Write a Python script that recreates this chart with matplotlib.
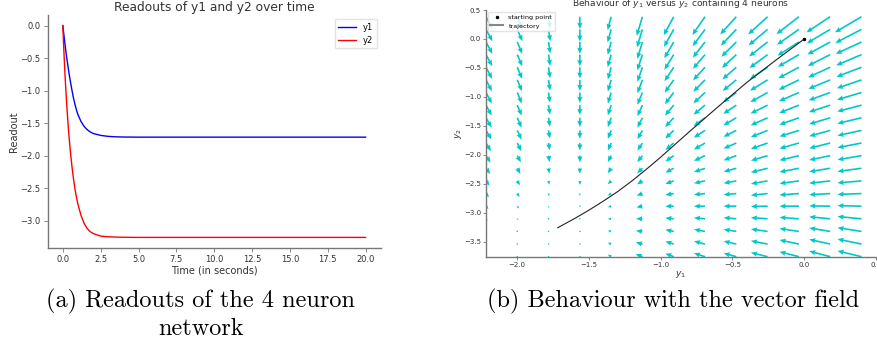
import numpy as np
import matplotlib
matplotlib.use("Agg")
import matplotlib.pyplot as plt

# readouts over time
t = [0, 0.05, 0.1, 0.15, 0.2, 0.25, 0.3, 0.4, 0.5, 0.6, 0.7, 0.8, 0.9, 1.0,
     1.2, 1.4, 1.6, 1.8, 2.0, 2.5, 3.0, 3.5, 4.0, 5.0, 6.0, 8.0, 10.0,
     12.5, 15.0, 17.5, 20.0]
y1 = [0, -0.10, -0.20, -0.30, -0.39, -0.48, -0.56, -0.72, -0.86, -0.99,
      -1.11, -1.21, -1.30, -1.37, -1.475, -1.55, -1.60, -1.635, -1.66,
      -1.69, -1.705, -1.712, -1.715, -1.717, -1.717, -1.717, -1.717,
      -1.717, -1.717, -1.717, -1.717]
y2 = [0, -0.28, -0.54, -0.78, -0.99, -1.18, -1.36, -1.68, -1.94, -2.16,
      -2.35, -2.51, -2.64, -2.75, -2.92, -3.04, -3.12, -3.17, -3.20,
      -3.24, -3.25, -3.255, -3.258, -3.26, -3.26, -3.26, -3.26, -3.26,
      -3.26, -3.26, -3.26]

# trajectory in the (y1, y2) plane
traj_y1 = [0, -0.1, -0.2, -0.3, -0.4, -0.5, -0.6, -0.7, -0.8, -0.9, -1.0,
           -1.1, -1.2, -1.3, -1.4, -1.5, -1.6, -1.7, -1.717]
traj_y2 = [0, -0.185, -0.37, -0.56, -0.75, -0.96, -1.17, -1.385, -1.6,
           -1.82, -2.04, -2.25, -2.45, -2.635, -2.80, -2.955, -3.10,
           -3.235, -3.258]
start_point = (0.0, 0.0)

# vector field, rows from top (y2 = 0.38) to bottom (y2 = -3.76),
# columns from y1 = -2.22 to y1 = 0.40
field_u = [
    [0.045, 0.036, 0.012, 0.0, -0.025, -0.040, -0.070, -0.088, -0.112, -0.135, -0.156, -0.165, -0.185],
    [0.045, 0.036, 0.012, 0.0, -0.025, -0.038, -0.068, -0.086, -0.108, -0.132, -0.152, -0.162, -0.182],
    [0.045, 0.035, 0.012, 0.0, -0.024, -0.036, -0.066, -0.085, -0.104, -0.129, -0.149, -0.159, -0.179],
    [0.044, 0.035, 0.011, 0.0, -0.024, -0.036, -0.065, -0.084, -0.100, -0.126, -0.146, -0.156, -0.176],
    [0.043, 0.034, 0.011, 0.0, -0.023, -0.035, -0.064, -0.083, -0.097, -0.124, -0.143, -0.154, -0.174],
    [0.042, 0.033, 0.011, 0.0, -0.023, -0.035, -0.063, -0.082, -0.095, -0.122, -0.141, -0.152, -0.172],
    [0.041, 0.032, 0.010, 0.0, -0.023, -0.035, -0.062, -0.081, -0.093, -0.120, -0.139, -0.150, -0.170],
    [0.040, 0.031, 0.010, 0.0, -0.023, -0.035, -0.061, -0.080, -0.091, -0.119, -0.137, -0.148, -0.169],
    [0.039, 0.030, 0.010, 0.0, -0.023, -0.035, -0.060, -0.079, -0.090, -0.118, -0.136, -0.147, -0.168],
    [0.038, 0.030, 0.009, 0.0, -0.023, -0.035, -0.059, -0.078, -0.089, -0.117, -0.135, -0.146, -0.167],
    [0.035, 0.028, 0.008, 0.0, -0.023, -0.035, -0.058, -0.077, -0.088, -0.116, -0.135, -0.146, -0.167],
    [0.032, 0.025, 0.007, 0.0, -0.023, -0.036, -0.058, -0.077, -0.088, -0.116, -0.135, -0.146, -0.167],
    [0.029, 0.022, 0.006, 0.0, -0.023, -0.037, -0.058, -0.077, -0.088, -0.116, -0.135, -0.146, -0.167],
    [0.025, 0.019, 0.005, 0.0, -0.023, -0.038, -0.058, -0.077, -0.088, -0.116, -0.135, -0.146, -0.167],
    [0.021, 0.016, 0.004, 0.0, -0.023, -0.040, -0.058, -0.077, -0.088, -0.116, -0.135, -0.146, -0.167],
    [0.017, 0.012, 0.003, 0.0, -0.023, -0.042, -0.058, -0.077, -0.088, -0.116, -0.135, -0.146, -0.167],
    [0.012, 0.009, 0.002, 0.0, -0.023, -0.044, -0.058, -0.077, -0.088, -0.116, -0.135, -0.146, -0.167],
    [0.009, 0.006, 0.001, -0.002, -0.023, -0.045, -0.058, -0.077, -0.088, -0.116, -0.135, -0.146, -0.167],
    [0.006, 0.004, 0.0, -0.003, -0.023, -0.046, -0.058, -0.077, -0.088, -0.116, -0.135, -0.146, -0.167],
    [0.004, 0.003, 0.0, -0.004, -0.023, -0.047, -0.058, -0.077, -0.088, -0.116, -0.135, -0.146, -0.167],
]
field_v = [
    [-0.21, -0.21, -0.205, -0.21, -0.23, -0.33, -0.32, -0.315, -0.305, -0.305, -0.30, -0.27, -0.27],
    [-0.205, -0.205, -0.205, -0.21, -0.225, -0.31, -0.30, -0.29, -0.28, -0.275, -0.265, -0.24, -0.235],
    [-0.205, -0.205, -0.20, -0.205, -0.22, -0.29, -0.28, -0.27, -0.255, -0.25, -0.235, -0.215, -0.205],
    [-0.20, -0.20, -0.195, -0.20, -0.215, -0.27, -0.26, -0.245, -0.23, -0.23, -0.21, -0.195, -0.185],
    [-0.20, -0.20, -0.19, -0.195, -0.21, -0.25, -0.24, -0.225, -0.21, -0.205, -0.19, -0.175, -0.165],
    [-0.195, -0.195, -0.185, -0.19, -0.20, -0.23, -0.22, -0.205, -0.19, -0.185, -0.17, -0.155, -0.145],
    [-0.19, -0.19, -0.175, -0.18, -0.19, -0.21, -0.20, -0.185, -0.17, -0.165, -0.15, -0.135, -0.125],
    [-0.18, -0.18, -0.165, -0.17, -0.175, -0.19, -0.18, -0.165, -0.15, -0.145, -0.135, -0.12, -0.11],
    [-0.17, -0.17, -0.155, -0.16, -0.16, -0.17, -0.16, -0.145, -0.13, -0.13, -0.12, -0.11, -0.10],
    [-0.155, -0.16, -0.14, -0.144, -0.144, -0.15, -0.14, -0.125, -0.11, -0.115, -0.105, -0.10, -0.09],
    [-0.14, -0.14, -0.125, -0.127, -0.127, -0.13, -0.12, -0.11, -0.095, -0.10, -0.095, -0.09, -0.08],
    [-0.12, -0.115, -0.11, -0.115, -0.11, -0.11, -0.10, -0.09, -0.08, -0.085, -0.08, -0.075, -0.07],
    [-0.10, -0.098, -0.09, -0.095, -0.086, -0.085, -0.075, -0.065, -0.06, -0.07, -0.065, -0.06, -0.055],
    [-0.08, -0.075, -0.065, -0.07, -0.058, -0.06, -0.05, -0.04, -0.04, -0.05, -0.045, -0.04, -0.035],
    [-0.065, -0.06, -0.045, -0.04, -0.035, -0.035, -0.025, -0.02, -0.02, -0.03, -0.025, -0.02, -0.015],
    [-0.05, -0.04, -0.03, -0.025, -0.017, -0.018, -0.002, 0.0, 0.0, -0.005, 0.0, 0.005, 0.01],
    [-0.03, -0.023, -0.02, -0.012, 0.0, 0.0, 0.015, 0.018, 0.02, 0.02, 0.025, 0.035, 0.04],
    [-0.02, -0.012, -0.01, -0.005, 0.012, 0.012, 0.03, 0.035, 0.035, 0.04, 0.05, 0.06, 0.065],
    [-0.015, -0.008, -0.005, 0.0, 0.023, 0.03, 0.045, 0.05, 0.05, 0.055, 0.07, 0.08, 0.085],
    [-0.01, -0.005, -0.003, 0.005, 0.035, 0.045, 0.055, 0.06, 0.06, 0.07, 0.085, 0.095, 0.10],
]

text_col = "#333333"
spine_col = "#777777"

fig = plt.figure(figsize=(8.78, 3.49), dpi=100)

# ---- panel a
ax1 = fig.add_axes([0.0543, 0.2894, 0.3793, 0.6676])
ax1.plot(t, y1, color="blue", lw=1.0, label="y1")
ax1.plot(t, y2, color="red", lw=1.0, label="y2")
ax1.set_title("Readouts of y1 and y2 over time", fontsize=8.8, color=text_col, pad=3)
ax1.set_xlabel("Time (in seconds)", fontsize=7, color=text_col, labelpad=1)
ax1.set_ylabel("Readout", fontsize=7, color=text_col, labelpad=1)
ax1.legend(loc="upper right", fontsize=6, frameon=True, fancybox=False,
           edgecolor="#dddddd", handlelength=2.2)

# ---- panel b
ax2 = fig.add_axes([0.5535, 0.2645, 0.4442, 0.7068])
xmin, xmax = min(traj_y1) - 0.5, max(traj_y1) + 0.5
ymin, ymax = min(traj_y2) - 0.5, max(traj_y2) + 0.5
step = 0.218
gx = np.arange(xmin, xmax, step)
gy = np.arange(ymin, ymax, step)[::-1]
X, Y = np.meshgrid(gx, gy)
ax2.quiver(X, Y, np.array(field_u), np.array(field_v), color="#00c8c8",
           angles="xy", scale_units="xy", scale=1, width=0.0042,
           headwidth=3.2, headlength=3.8, headaxislength=3.4)
ax2.plot(traj_y1, traj_y2, color="#222222", lw=0.8, label="trajectory")
ax2.plot(*start_point, "k.", ms=3, label="starting point")
ax2.set_xlim(xmin, xmax)
ax2.set_ylim(ymin, ymax)
ax2.set_title(r"Behaviour of $y_1$ versus $y_2$ containing 4 neurons",
              fontsize=6.6, color=text_col, pad=0.6)
ax2.set_xlabel(r"$y_1$", fontsize=6.5, color=text_col, labelpad=1)
ax2.set_ylabel(r"$y_2$", fontsize=6.5, color=text_col, labelpad=0)
h, l = ax2.get_legend_handles_labels()
leg = ax2.legend(h[::-1], l[::-1], loc="upper left", fontsize=4.6, frameon=True,
                 fancybox=False, edgecolor="#dddddd", borderaxespad=0.3,
                 handlelength=2.0)
leg.get_lines()[1].set_color("#888888")
leg.get_lines()[1].set_linewidth(1.5)

for side in ("top", "right"):
    ax1.spines[side].set_visible(False)
    ax2.spines[side].set_visible(False)
for side in ("left", "bottom"):
    for ax in (ax1, ax2):
        ax.spines[side].set_color(spine_col)
        ax.spines[side].set_linewidth(1.0)
ax1.tick_params(labelsize=6, labelcolor=text_col, color=spine_col, length=3, width=0.6, pad=2)
ax2.tick_params(labelsize=5, labelcolor=text_col, color=spine_col, length=2, width=0.6, pad=1.5)

# ---- sub captions
cap = dict(fontfamily="cmr10", fontsize=17.5, color="black", ha="center", va="baseline")
fig.text(0.2285, 0.118, "(a) Readouts of the 4 neuron", **cap)
fig.text(0.2285, 0.040, "network", **cap)
fig.text(0.767, 0.118, "(b) Behaviour with the vector field", **cap)

fig.savefig("out.png", dpi=100)
